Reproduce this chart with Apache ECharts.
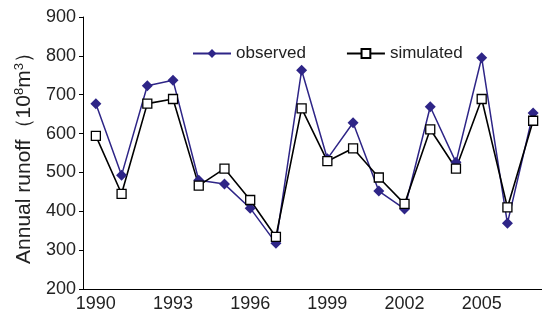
<!DOCTYPE html>
<html>
<head>
<meta charset="utf-8">
<script src="https://cdn.jsdelivr.net/npm/echarts@6/dist/echarts.min.js"></script>
<style>
  html, body { margin: 0; padding: 0; background: #fff; }
  #chart { width: 542px; height: 320px; }
</style>
</head>
<body>
<div id="chart"></div>
<script>
// years on the x axis
const years = ['1990', '1991', '1992', '1993', '1994', '1995', '1996', '1997', '1998',
  '1999', '2000', '2001', '2002', '2003', '2004', '2005', '2006', '2007']

// annual runoff, 10^8 m^3
const observed = [677, 493, 723, 737, 480, 470, 408, 318, 763, 535, 628, 452, 406, 669, 526, 795, 369, 653]
const simulated = [594, 445, 677, 689, 466, 510, 429, 334, 665, 529, 562, 487, 419, 611, 510, 689, 410, 633]

const yMin = 200
const yMax = 900
const yStep = 100

const font = 'Liberation Sans, Arial, Helvetica, sans-serif'
const blue = '#2e2587'

const chart = echarts.init(document.getElementById('chart'))

chart.setOption({
  animation: false,
  backgroundColor: '#fff',
  textStyle: { fontFamily: font },
  grid: { left: 83, top: 17, width: 463, height: 272, containLabel: false, outerBoundsMode: 'none' },
  legend: {
    left: 187,
    top: 40,
    itemWidth: 38,
    itemHeight: 11,
    itemGap: 40,
    textStyle: { fontSize: 17, color: '#222', fontFamily: font },
    data: ['observed', 'simulated']
  },
  xAxis: {
    type: 'category',
    data: years,
    boundaryGap: true,
    axisLine: { lineStyle: { color: '#000', width: 1 } },
    axisTick: { inside: true, length: 4, interval: 0, lineStyle: { color: '#000' } },
    axisLabel: { interval: 2, margin: 6, fontSize: 18, color: '#222', fontFamily: font },
    splitLine: { show: false }
  },
  yAxis: {
    type: 'value',
    min: yMin,
    max: yMax,
    interval: yStep,
    name: '{a|Annual runoff（10}{s|8}{a|m}{s|3}{a|）}',
    nameLocation: 'middle',
    nameGap: 46,
    nameTextStyle: {
      rich: {
        a: { fontSize: 21, color: '#222', fontFamily: font },
        s: { fontSize: 13, color: '#222', fontFamily: font, padding: [0, 0, 10, 0] }
      }
    },
    axisLine: { show: true, lineStyle: { color: '#000', width: 1 } },
    axisTick: { show: true, length: 4, lineStyle: { color: '#000' } },
    axisLabel: { margin: 7, fontSize: 18, color: '#222', fontFamily: font },
    splitLine: { show: false }
  },
  series: [
    {
      name: 'observed',
      type: 'line',
      data: observed,
      symbol: 'diamond',
      symbolSize: 11,
      lineStyle: { color: blue, width: 1.5 },
      itemStyle: { color: blue }
    },
    {
      name: 'simulated',
      type: 'line',
      data: simulated,
      symbol: 'rect',
      symbolSize: 9,
      lineStyle: { color: '#000', width: 1.6 },
      itemStyle: { color: '#fff', borderColor: '#000', borderWidth: 1.3 }
    }
  ]
})

window.addEventListener('resize', () => chart.resize())
</script>
</body>
</html>
